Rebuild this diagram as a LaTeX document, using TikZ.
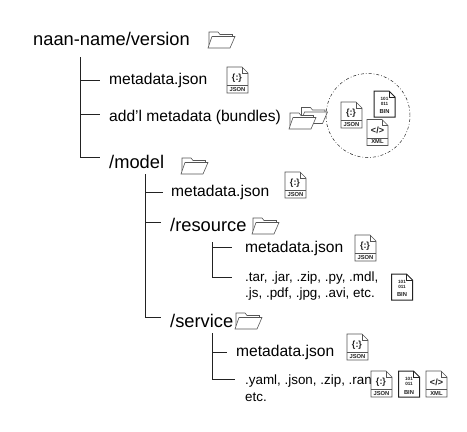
\documentclass[tikz,border=0pt]{standalone}
\usepackage{fontspec}
\setmainfont{Liberation Sans}
\definecolor{ink}{HTML}{222222}
\definecolor{soft}{HTML}{555555}
\tikzset{
  x=1pt,y=-1pt,
  big/.style={anchor=west,inner sep=0pt,font=\fontsize{18.3}{20}\selectfont},
  mid/.style={anchor=west,inner sep=0pt,font=\fontsize{15.6}{18}\selectfont},
  low/.style={anchor=west,inner sep=0pt,font=\fontsize{13.4}{16}\selectfont,align=left},
  branch/.style={draw=ink,line width=0.7pt},
  iconline/.style={draw=soft,line width=0.7pt,fill=white},
  foldline/.style={draw=soft,line width=0.6pt,fill=white,line join=miter},
  glyph/.style={inner sep=0pt,text=ink,font=\fontsize{9}{10}\selectfont\bfseries},
  band/.style={inner sep=0pt,text=ink,font=\fontsize{5.8}{6}\selectfont\bfseries},
  ring/.style={draw=ink,line width=0.5pt,dash pattern=on 3pt off 2pt on 0.8pt off 2pt},
  filebody/.pic={
    \draw[iconline] (0,0)--(15,0)--(21,6)--(21,26)--(0,26)--cycle;
    \draw[iconline,fill=none] (15,0)--(15,6)--(21,6);
    \draw[iconline,fill=none] (0,18.5)--(21,18.5);
  },
  jsonicon/.pic={
    \pic at (0,0) {filebody};
    \node[glyph] (-g) at (10,11) {\{:\}};
    \node[band] (-b) at (10.5,22.3) {JSON};
  },
  binicon/.pic={
    \draw[iconline,draw=ink,line width=1pt] (0,0)--(15,0)--(21,6)--(21,26)--(0,26)--cycle;
    \draw[iconline,draw=ink,fill=none] (15,0)--(15,6)--(21,6);
    \node[band,align=center,font=\fontsize{4.6}{5}\selectfont\bfseries] (-g) at (10.5,10.5) {101\\011};
    \node[band] (-b) at (10.5,21) {BIN};
  },
  xmlicon/.pic={
    \pic at (0,0) {filebody};
    \node[glyph] (-g) at (10.5,11) {</>};
    \node[band] (-b) at (10.5,22.3) {XML};
  },
  foldericon/.pic={
    \draw[foldline] (1,14)--(1,1)--(10,1)--(12,3.5)--(24.5,3.5)--(24.5,6);
    \draw[foldline] (0,17)--(4,5.5)--(27,5.5)--(22,17)--cycle;
  },
}
\begin{document}
\begin{tikzpicture}
\useasboundingbox (0,0) rectangle (467,432);

% texts
\node[big] (root) at (33,38.5) {naan-name/version};
\node[mid] (m1) at (109,80) {metadata.json};
\node[mid] (add) at (109,117) {add’l metadata (bundles)};
\node[big] (model) at (109,162) {/model};
\node[mid] (m2) at (171,192) {metadata.json};
\node[big] (res) at (170,224.5) {/resource};
\node[mid] (m3) at (245,248) {metadata.json};
\node[low] (l1) at (245,286) {.tar, .jar, .zip, .py, .mdl,\\.js, .pdf, .jpg, .avi, etc.};
\node[big] (srv) at (170,320.5) {/service};
\node[mid] (m4) at (236,352) {metadata.json};
\node[low] (l2) at (245,381) {.yaml, .json, .zip, .ran};
\node[low] (l3) at (245,397) {etc.};

% trunks and branches
\coordinate (t1) at (80,57);
\coordinate (t2) at (145.5,174);
\coordinate (t3) at (212,242);
\coordinate (t4) at (212,333);
\draw[branch] (t1) |- ([xshift=-9pt]model.west |- 0,157);
\draw[branch] (t1 |- 0,80) -- ([xshift=-9pt]m1.west);
\draw[branch] (t1 |- 0,114) -- ([xshift=-9pt]m1.west |- 0,114);
\draw[branch] (t2) |- (161,317);
\draw[branch] (t2 |- 0,192) -- ([xshift=-8pt]m2.west);
\draw[branch] (t2 |- 0,222) -- (161,222);
\draw[branch] (t3) |- (232,277);
\draw[branch] (t3 |- 0,247) -- (232,247);
\draw[branch] (t4) |- (235,379);
\draw[branch] (t4 |- 0,352) -- ([xshift=-9pt]m4.west);

% folders
\pic at (208,31) {foldericon};
\pic at (181,157) {foldericon};
\pic at (252,217) {foldericon};
\pic at (235,312) {foldericon};
\pic at (300.5,106.5) {foldericon};
\pic at (289,112) {foldericon};

% bundle circle
\node[ring,circle,minimum size=84pt,inner sep=0pt] (bundle) at (368,115.5) {};

% icons
\pic (j1) at (227,67) {jsonicon};
\pic (j2) at (285,172) {jsonicon};
\pic (j3) at (355,235) {jsonicon};
\pic (j4) at (347,334) {jsonicon};
\pic (j5) at (341,102) {jsonicon};
\pic (j6) at (371,371) {jsonicon};
\pic (b1) at (391.5,274) {binicon};
\pic (b2) at (374,91) {binicon};
\pic (b3) at (398.5,371) {binicon};
\pic (x1) at (367,119.5) {xmlicon};
\pic (x2) at (426,371) {xmlicon};
\end{tikzpicture}
\end{document}
